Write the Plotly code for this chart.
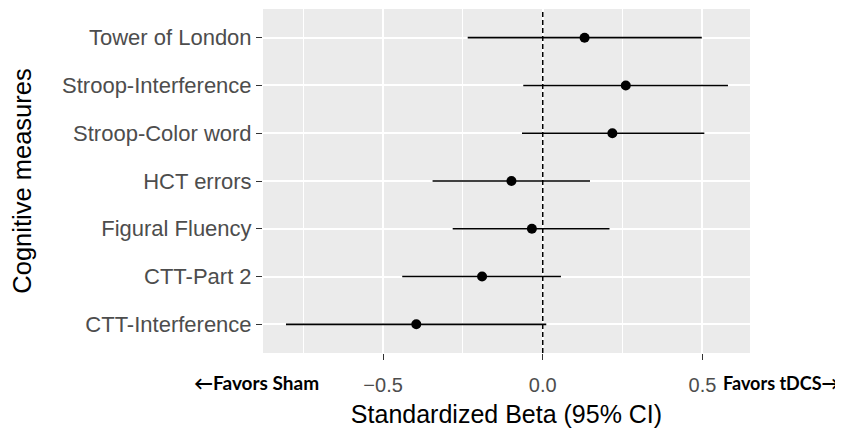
import plotly.graph_objects as go

measures = ["Tower of London", "Stroop-Interference", "Stroop-Color word",
            "HCT errors", "Figural Fluency", "CTT-Part 2", "CTT-Interference"]
beta = [0.131, 0.260, 0.218, -0.098, -0.034, -0.190, -0.396]
ci_low = [-0.235, -0.061, -0.065, -0.345, -0.282, -0.440, -0.804]
ci_high = [0.498, 0.580, 0.506, 0.148, 0.209, 0.057, 0.011]
x_ticks = [-0.5, 0.0, 0.5]
x_tick_labels = ["\u22120.5", "0.0", "0.5"]
ref_value = 0.0

err_plus = [h - b for h, b in zip(ci_high, beta)]
err_minus = [b - l for b, l in zip(beta, ci_low)]

fig = go.Figure()
fig.add_trace(go.Scatter(
    x=beta, y=measures, mode="markers",
    marker=dict(color="black", size=10),
    error_x=dict(type="data", symmetric=False, array=err_plus, arrayminus=err_minus,
                 color="black", thickness=1.6, width=0),
    showlegend=False, cliponaxis=False,
))
fig.add_vline(x=ref_value, line=dict(color="black", width=1.5, dash="5px,3px"))

# page body has an 8px margin; figure is sized to fit the window
W, H = 835, 420
L, R, T, B = 255, 93, 1, 75
fig.update_layout(
    width=W, height=H,
    margin=dict(l=L, r=R, t=T, b=B, pad=0),
    paper_bgcolor="white", plot_bgcolor="#EBEBEB",
    font=dict(family="Liberation Sans, Arial, sans-serif", color="black"),
    annotations=[
        dict(text="<b>\u2190Favors Sham</b>", xref="paper", yref="paper",
             x=0.1185, y=-0.0872, xanchor="right", yanchor="middle", showarrow=False,
             font=dict(family="Lato, sans-serif", size=19, color="black")),
        dict(text="<b>Favors tDCS\u2192</b>", xref="paper", yref="paper",
             x=0.9398, y=-0.0872, xanchor="left", yanchor="middle", showarrow=False,
             font=dict(family="Lato, sans-serif", size=18, color="black")),
    ],
)
fig.update_xaxes(
    range=[-0.876, 0.649], tickvals=x_ticks, ticktext=x_tick_labels,
    showgrid=True, gridcolor="white", gridwidth=1.5,
    minor=dict(dtick=0.25, tick0=0, showgrid=True, gridcolor="white", gridwidth=1, ticks=""),
    zeroline=False, showline=False,
    ticks="outside", ticklen=6, tickwidth=1.2, tickcolor="#333333",
    ticklabelstandoff=8,
    tickfont=dict(size=20, color="#4D4D4D"),
    title=dict(text="Standardized Beta (95% CI)", font=dict(size=25, color="black"), standoff=12),
)
fig.update_yaxes(
    type="category", categoryorder="array", categoryarray=measures[::-1],
    range=[-0.6, 6.6],
    showgrid=True, gridcolor="white", gridwidth=1.5, zeroline=False, showline=False,
    ticks="outside", ticklen=6, tickwidth=1.2, tickcolor="#333333",
    tickfont=dict(size=22, color="#4D4D4D"),
    title=dict(text="Cognitive measures", font=dict(size=25.5, color="black"), standoff=33),
)
fig.write_html("out.html")
